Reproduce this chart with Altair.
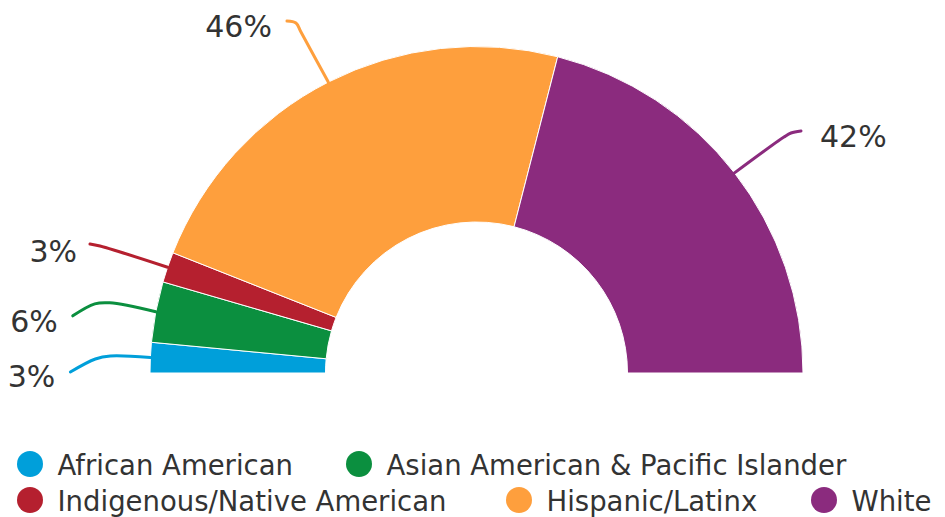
import math
import altair as alt
import pandas as pd

# ---------------- data ----------------
groups = ["African American", "Asian American & Pacific Islander",
          "Indigenous/Native American", "Hispanic/Latinx", "White"]
shares = [3, 6, 3, 46, 42]
labels = ["3%", "6%", "3%", "46%", "42%"]
colors = ["#009fda", "#0b8f3f", "#b5202f", "#fe9f3d", "#8b2b7e"]

# ---------------- layout ----------------
W, H = 929, 509
CX, CY = 468.5, 365.0
R_OUT, R_IN = 326.5, 151.0
FONT = "DejaVu Sans"
TEXT_COLOR = "#333333"

# leader-line control points, pixel offsets from the slice's outer mid-point
leader_offsets = [
    [(-40, -1.6), (-55, 1.4), (-80, 14.4)],
    [(-46, -9), (-61, -8), (-83, 4)],
    [(-67.6, -21.2), (-77.6, -23.2)],
    [(-27.3, -50.1), (-32.3, -59.1), (-41.3, -61.1)],
    [(49.5, -35.9), (56.5, -39.9), (66.5, -41.9)],
]
# percent-label anchor, pixel offset from the leader end
label_offsets = [(-15, 15), (-15, 16), (-13, 18), (-15, 16), (19, 16)]
label_align = ["right", "right", "right", "right", "left"]
# legend circle centres (pixels)
legend_pos = [(22, 456), (351, 456), (22, 492), (511, 492), (816, 492)]
LEGEND_TEXT_DX = 27.5
LEGEND_TEXT_DY = 10.5


def to_u(px, py):
    return (px - CX) / R_OUT, (CY - py) / R_OUT


# ---------------- tables ----------------
df = pd.DataFrame({"group": groups, "share": shares, "label": labels,
                   "idx": range(len(groups))})

total = sum(shares)
line_rows, label_rows = [], []
cum = 0
for i, (g, s) in enumerate(zip(groups, shares)):
    mid = cum + s / 2
    cum += s
    phi = math.pi - math.pi * mid / total
    sx = CX + R_OUT * math.cos(phi)
    sy = CY - R_OUT * math.sin(phi)
    pts = [(sx, sy)] + [(sx + dx, sy + dy) for dx, dy in leader_offsets[i]]
    for k, (px, py) in enumerate(pts):
        xu, yu = to_u(px, py)
        line_rows.append({"group": g, "seq": k, "xu": xu, "yu": yu})
    ex, ey = pts[-1]
    lx, ly = to_u(ex + label_offsets[i][0], ey + label_offsets[i][1])
    label_rows.append({"group": g, "label": labels[i], "xu": lx, "yu": ly,
                       "align": label_align[i]})
lines_df = pd.DataFrame(line_rows)
labels_df = pd.DataFrame(label_rows)

leg_rows = []
for i, g in enumerate(groups):
    cx, cy = legend_pos[i]
    pxu, pyu = to_u(cx, cy)
    txu, tyu = to_u(cx + LEGEND_TEXT_DX, cy + LEGEND_TEXT_DY)
    leg_rows.append({"group": g, "pxu": pxu, "pyu": pyu, "txu": txu, "tyu": tyu})
leg_df = pd.DataFrame(leg_rows)

# ---------------- scales ----------------
color_scale = alt.Scale(domain=groups, range=colors)
xs = alt.Scale(domain=[-CX / R_OUT, (W - CX) / R_OUT], range=[0, W], nice=False, zero=False)
ys = alt.Scale(domain=[(CY - H) / R_OUT, CY / R_OUT], range=[H, 0], nice=False, zero=False)

arc = alt.Chart(df).mark_arc(
    outerRadius=R_OUT, innerRadius=R_IN, stroke="white", strokeWidth=1
).encode(
    theta=alt.Theta("share:Q", stack=True,
                    scale=alt.Scale(range=[-math.pi / 2, math.pi / 2])),
    color=alt.Color("group:N", scale=color_scale, legend=None),
    order=alt.Order("idx:Q"),
    x=alt.value(CX),
    y=alt.value(CY),
)

leaders = alt.Chart(lines_df).mark_line(
    interpolate="catmull-rom", strokeWidth=3, strokeCap="round"
).encode(
    x=alt.X("xu:Q", scale=xs, axis=None),
    y=alt.Y("yu:Q", scale=ys, axis=None),
    color=alt.Color("group:N", scale=color_scale, legend=None),
    detail="group:N",
    order="seq:Q",
)

lab_right = alt.Chart(labels_df).transform_filter(
    alt.datum.align == "right"
).mark_text(
    align="right", baseline="alphabetic", font=FONT, fontSize=30, color=TEXT_COLOR
).encode(
    x=alt.X("xu:Q", scale=xs, axis=None),
    y=alt.Y("yu:Q", scale=ys, axis=None),
    text="label:N",
)
lab_left = alt.Chart(labels_df).transform_filter(
    alt.datum.align == "left"
).mark_text(
    align="left", baseline="alphabetic", font=FONT, fontSize=30, color=TEXT_COLOR
).encode(
    x=alt.X("xu:Q", scale=xs, axis=None),
    y=alt.Y("yu:Q", scale=ys, axis=None),
    text="label:N",
)

leg_pts = alt.Chart(leg_df).mark_point(
    filled=True, shape="circle", size=676, opacity=1
).encode(
    x=alt.X("pxu:Q", scale=xs, axis=None),
    y=alt.Y("pyu:Q", scale=ys, axis=None),
    color=alt.Color("group:N", scale=color_scale, legend=None),
)
leg_txt = alt.Chart(leg_df).mark_text(
    align="left", baseline="alphabetic", font=FONT, fontSize=27.5, color=TEXT_COLOR
).encode(
    x=alt.X("txu:Q", scale=xs, axis=None),
    y=alt.Y("tyu:Q", scale=ys, axis=None),
    text="group:N",
)

chart = alt.layer(arc, leaders, lab_right, lab_left, leg_pts, leg_txt).properties(
    width=W, height=H, padding=0,
    autosize=alt.AutoSizeParams(type="none"),
).configure_view(stroke=None)

chart.save("out.html", embed_options={"renderer": "svg", "actions": False})
